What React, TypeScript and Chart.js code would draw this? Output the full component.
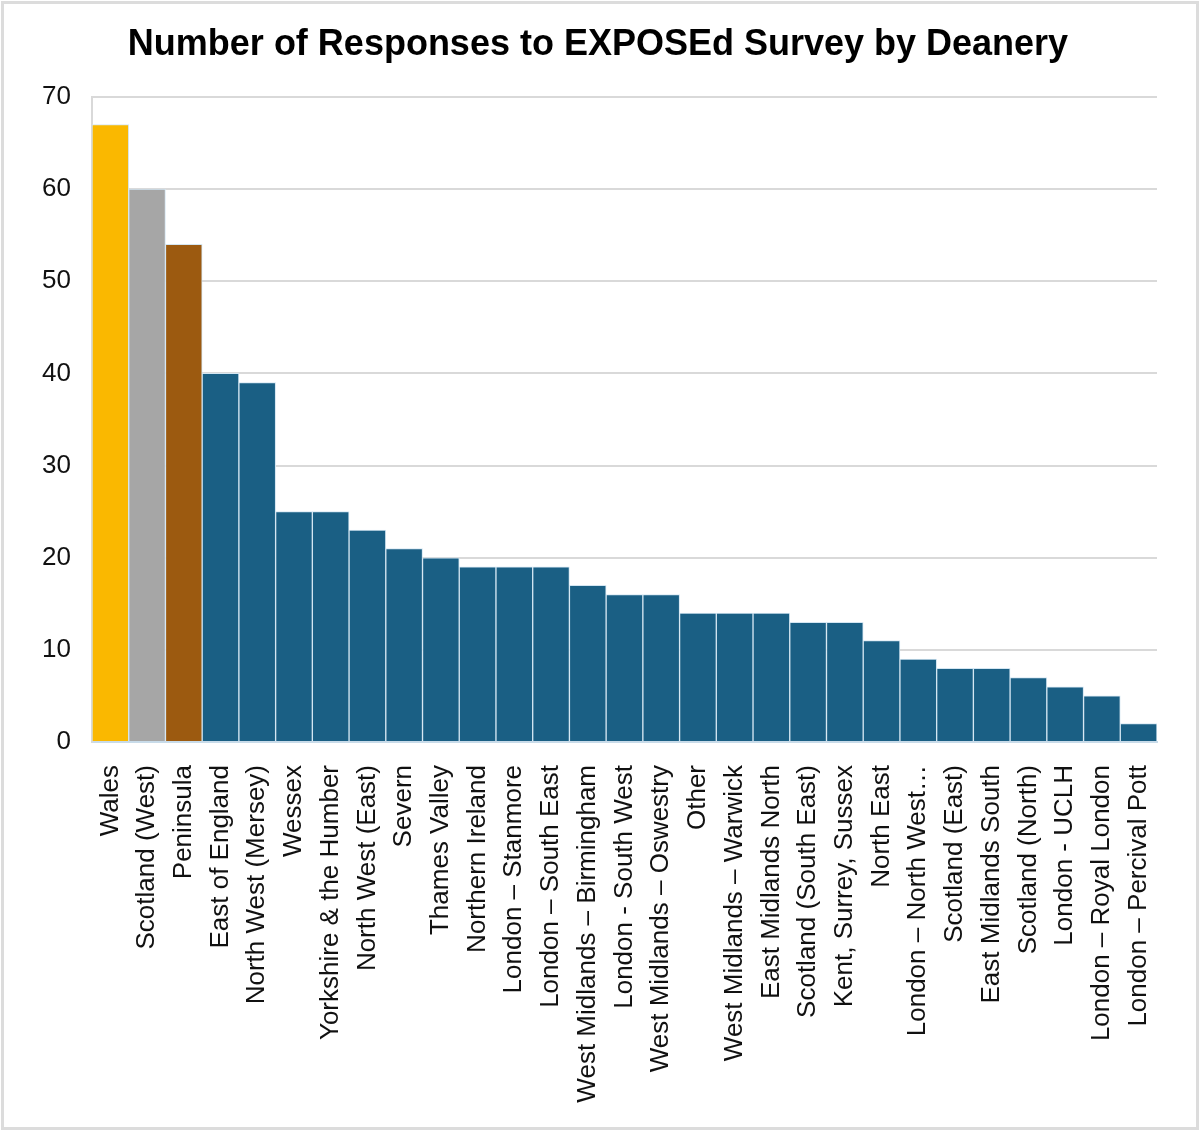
import { useEffect, useRef } from "react";
import { Chart, registerables } from "chart.js";

Chart.register(...registerables);

const deaneries: string[] = [
  "Wales",
  "Scotland (West)",
  "Peninsula",
  "East of England",
  "North West (Mersey)",
  "Wessex",
  "Yorkshire & the Humber",
  "North West (East)",
  "Severn",
  "Thames Valley",
  "Northern Ireland",
  "London – Stanmore",
  "London – South East",
  "West Midlands – Birmingham",
  "London - South West",
  "West Midlands – Oswestry",
  "Other",
  "West Midlands – Warwick",
  "East Midlands North",
  "Scotland (South East)",
  "Kent, Surrey, Sussex",
  "North East",
  "London – North West…",
  "Scotland (East)",
  "East Midlands South",
  "Scotland (North)",
  "London - UCLH",
  "London – Royal London",
  "London – Percival Pott",
];

const responses: number[] = [
  67, 60, 54, 40, 39, 25, 25, 23, 21, 20, 19, 19, 19, 17, 16, 16, 14, 14, 14, 13, 13, 11, 9, 8, 8, 7, 6, 5, 2,
];

const yTicks: number[] = [0, 10, 20, 30, 40, 50, 60, 70];

const chartTitle = "Number of Responses to EXPOSEd Survey by Deanery";

// first three bars are highlighted (gold, silver, bronze)
const podium = ["#FAB800", "#A6A6A6", "#9C5A10"];
const barBlue = "#1A5F84";

const FONT = "'Liberation Sans', Arial, sans-serif";

// title centred on the whole canvas, not just the plot area
const titlePlugin = {
  id: "pageTitle",
  afterDraw(chart: any) {
    const c = chart.ctx;
    c.save();
    c.font = `bold 36px ${FONT}`;
    c.fillStyle = "#000";
    c.textAlign = "center";
    c.textBaseline = "alphabetic";
    c.fillText(chartTitle, chart.width / 2 - 2, 55);
    c.restore();
  },
};

export default function App() {
  const canvasRef = useRef<HTMLCanvasElement | null>(null);

  useEffect(() => {
    document.body.style.margin = "0";
    if (!canvasRef.current) return;
    const ctx = canvasRef.current.getContext("2d");
    if (!ctx) return;
    const chart = new Chart(ctx, {
      type: "bar",
      data: {
        labels: deaneries,
        datasets: [
          {
            data: responses,
            backgroundColor: responses.map((_, i) => podium[i] ?? barBlue),
            borderColor: "#d4e6f2",
            borderWidth: 1,
            barPercentage: 1,
            categoryPercentage: 1,
          },
        ],
      },
      plugins: [titlePlugin],
      options: {
        responsive: false,
        animation: false,
        layout: { padding: { left: 0, right: 43, top: 97, bottom: 0 } },
        plugins: {
          legend: { display: false },
          tooltip: { enabled: false },
          title: { display: false },
        },
        scales: {
          x: {
            grid: { display: false, drawTicks: false },
            border: { display: true, color: "#c8dbe9", width: 2 },
            ticks: {
              autoSkip: false,
              maxRotation: 90,
              minRotation: 90,
              padding: 23,
              color: "#111",
              font: { family: FONT, size: 26 },
            },
            afterFit: (scale: any) => {
              scale.height = 389;
            },
          },
          y: {
            min: 0,
            max: 70,
            afterBuildTicks: (scale: any) => {
              scale.ticks = yTicks.map((v) => ({ value: v }));
            },
            grid: { color: "#d9d9d9", lineWidth: 2, drawTicks: false },
            border: { display: true, color: "#d9d9d9", width: 2 },
            ticks: {
              padding: 21,
              color: "#111",
              font: { family: FONT, size: 26 },
            },
            afterFit: (scale: any) => {
              scale.width = 92;
            },
          },
        },
      },
    });
    return () => chart.destroy();
  }, []);

  return (
    <div
      style={{
        position: "relative",
        width: 1200,
        height: 1131,
        background: "#fff",
      }}
    >
      <canvas ref={canvasRef} width={1200} height={1131} style={{ display: "block" }} />
      <div
        style={{
          position: "absolute",
          left: 1,
          top: 1,
          width: 1198,
          height: 1129,
          boxSizing: "border-box",
          border: "3px solid #dcdcdc",
          pointerEvents: "none",
        }}
      />
    </div>
  );
}
